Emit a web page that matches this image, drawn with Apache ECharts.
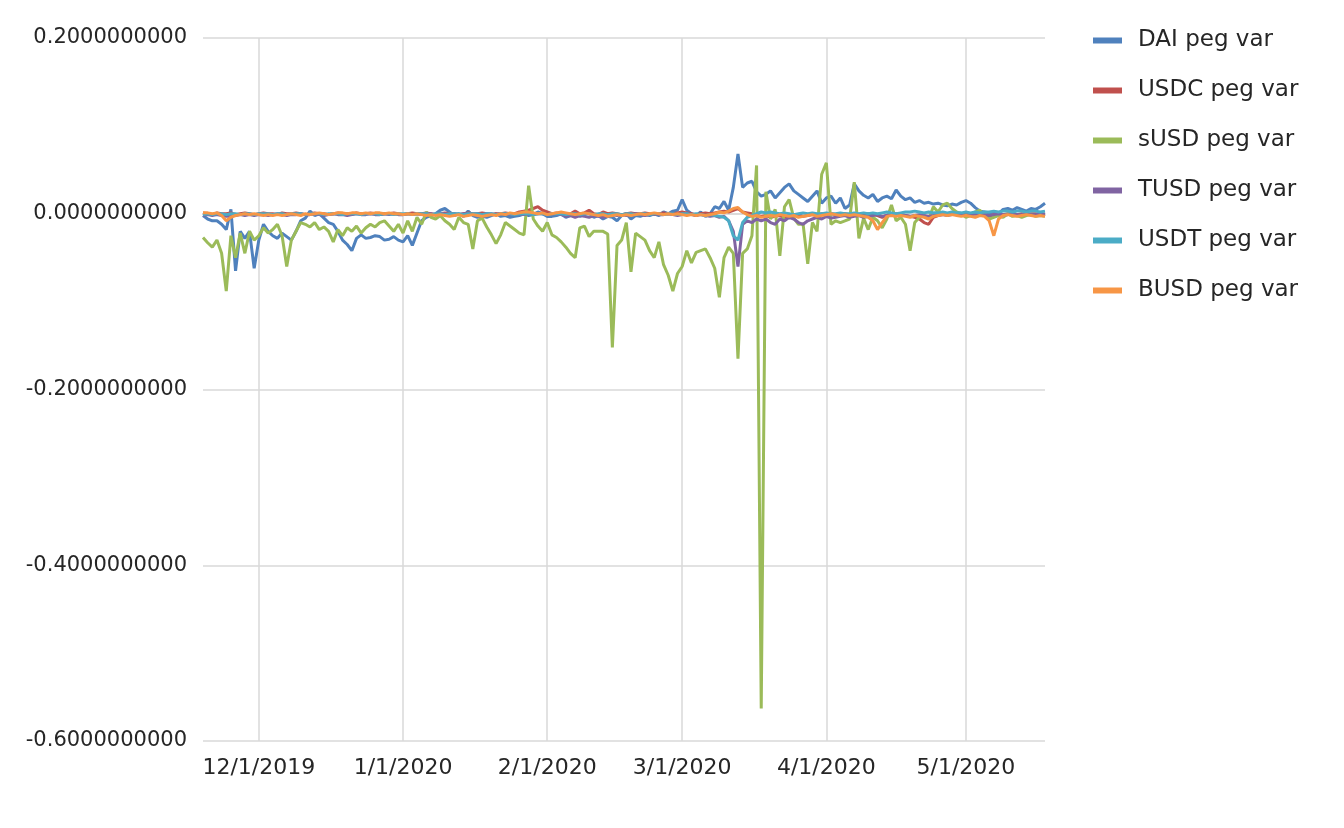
<!DOCTYPE html>
<html>
<head>
<meta charset="utf-8">
<script src="https://cdn.jsdelivr.net/npm/echarts@6/dist/echarts.min.js"></script>
<style>
html,body{margin:0;padding:0;background:#fff;}
#chart{width:1344px;height:828px;}
</style>
</head>
<body>
<div id="chart"></div>
<script>
// Daily categories from 11/19/2019 through 5/18/2020
const startDate = [2019, 11, 19];
const dayCount = 182;

const seriesNames = ['DAI peg var', 'USDC peg var', 'sUSD peg var', 'TUSD peg var', 'USDT peg var', 'BUSD peg var'];
const yTicks = [-0.6, -0.4, -0.2, 0, 0.2];

const daiValues = [
 -0.002, -0.006, -0.008, -0.008, -0.012, -0.018, 0.005, -0.065, -0.020, -0.028,
 -0.020, -0.062, -0.030, -0.012, -0.020, -0.025, -0.028, -0.022, -0.026, -0.030,
 -0.020, -0.008, -0.005, 0.003, -0.002, 0.000, -0.005, -0.010, -0.012, -0.020,
 -0.030, -0.035, -0.042, -0.028, -0.024, -0.028, -0.027, -0.025, -0.026, -0.030,
 -0.029, -0.026, -0.030, -0.032, -0.025, -0.036, -0.022, -0.008, -0.004, -0.002,
 0.000, 0.004, 0.006, 0.002, -0.002, 0.000, -0.003, 0.003, -0.002, -0.004,
 -0.003, -0.004, -0.002, 0.000, -0.003, -0.002, -0.004, -0.003, -0.002, 0.000,
 -0.002, -0.001, 0.002, 0.000, -0.003, -0.003, -0.002, 0.000, -0.004, -0.002,
 0.002, -0.003, -0.001, 0.002, -0.004, -0.002, -0.006, -0.003, -0.004, -0.008,
 -0.002, 0.000, -0.006, -0.002, -0.003, -0.001, -0.002, 0.000, -0.002, 0.002,
 0.000, 0.003, 0.004, 0.016, 0.004, 0.000, -0.002, 0.002, -0.003, 0.000,
 0.008, 0.006, 0.014, 0.004, 0.030, 0.068, 0.030, 0.035, 0.037, 0.025,
 0.020, 0.022, 0.026, 0.018, 0.024, 0.030, 0.034, 0.026, 0.022, 0.018,
 0.014, 0.020, 0.026, 0.012, 0.018, 0.020, 0.012, 0.018, 0.006, 0.010,
 0.034, 0.026, 0.021, 0.018, 0.022, 0.014, 0.018, 0.020, 0.017, 0.027,
 0.020, 0.016, 0.018, 0.013, 0.015, 0.012, 0.013, 0.011, 0.012, 0.010,
 0.009, 0.011, 0.010, 0.013, 0.015, 0.012, 0.007, 0.003, 0.002, 0.001,
 0.002, 0.000, 0.005, 0.006, 0.004, 0.007, 0.005, 0.003, 0.006, 0.005,
 0.008, 0.012
];

const usdcValues = [
 0.001, 0.000, -0.001, 0.001, 0.000, 0.000, 0.001, -0.001, 0.000, 0.001,
 0.000, -0.001, 0.000, 0.001, 0.000, 0.000, -0.001, 0.001, 0.000, 0.000,
 0.001, 0.000, -0.001, 0.000, 0.001, 0.000, 0.000, -0.001, 0.000, 0.001,
 0.000, 0.000, -0.001, 0.001, 0.000, 0.000, 0.001, 0.000, -0.001, 0.000,
 0.000, 0.001, 0.000, -0.001, 0.000, 0.001, 0.000, 0.000, 0.001, 0.000,
 -0.001, 0.000, 0.001, 0.000, 0.000, -0.001, 0.000, 0.001, 0.000, 0.000,
 0.001, 0.000, -0.001, 0.000, 0.000, 0.001, 0.000, 0.000, 0.002, 0.003,
 0.004, 0.006, 0.008, 0.004, 0.002, 0.000, 0.001, 0.000, -0.001, 0.000,
 0.003, 0.000, 0.001, 0.004, 0.000, -0.001, 0.002, 0.000, 0.001, 0.000,
 -0.001, 0.000, 0.001, 0.000, 0.000, 0.001, 0.000, -0.001, 0.000, 0.001,
 0.000, 0.000, 0.001, 0.002, 0.001, 0.000, -0.001, 0.000, 0.001, 0.000,
 0.001, 0.002, 0.003, 0.002, 0.004, 0.006, 0.002, 0.001, 0.000, -0.002,
 -0.003, -0.002, -0.004, -0.003, -0.002, -0.004, -0.003, -0.002, -0.001, -0.003,
 -0.002, -0.001, -0.002, 0.000, -0.001, 0.000, -0.001, 0.000, 0.000, -0.001,
 0.000, -0.002, -0.001, 0.000, -0.001, -0.002, -0.004, -0.002, -0.001, 0.000,
 -0.001, -0.002, -0.003, -0.004, -0.006, -0.010, -0.012, -0.004, -0.002, -0.001,
 0.000, -0.001, 0.000, -0.001, 0.000, -0.001, 0.000, -0.001, -0.002, -0.003,
 -0.001, 0.000, -0.001, 0.000, 0.000, -0.001, 0.000, -0.001, 0.000, 0.000,
 -0.001, 0.000
];

const susdValues = [
 -0.027, -0.033, -0.038, -0.030, -0.045, -0.088, -0.025, -0.050, -0.022, -0.045,
 -0.020, -0.030, -0.025, -0.016, -0.022, -0.018, -0.012, -0.025, -0.060, -0.030,
 -0.020, -0.010, -0.012, -0.015, -0.010, -0.018, -0.015, -0.020, -0.032, -0.018,
 -0.025, -0.016, -0.020, -0.014, -0.022, -0.016, -0.012, -0.015, -0.010, -0.008,
 -0.014, -0.020, -0.012, -0.022, -0.008, -0.020, -0.004, -0.012, 0.002, -0.004,
 -0.006, -0.002, -0.008, -0.012, -0.018, -0.004, -0.010, -0.012, -0.040, -0.008,
 -0.005, -0.015, -0.024, -0.034, -0.024, -0.010, -0.014, -0.018, -0.022, -0.024,
 0.032, -0.006, -0.014, -0.020, -0.010, -0.024, -0.027, -0.032, -0.038, -0.045,
 -0.050, -0.016, -0.014, -0.026, -0.020, -0.020, -0.020, -0.023, -0.152, -0.036,
 -0.030, -0.010, -0.066, -0.022, -0.026, -0.030, -0.042, -0.050, -0.032, -0.058,
 -0.070, -0.088, -0.068, -0.060, -0.042, -0.056, -0.044, -0.042, -0.040, -0.050,
 -0.062, -0.095, -0.050, -0.038, -0.045, -0.165, -0.045, -0.040, -0.025, 0.055,
 -0.563, 0.025, -0.006, 0.005, -0.048, 0.008, 0.016, -0.005, -0.012, -0.012,
 -0.057, -0.010, -0.020, 0.045, 0.058, -0.012, -0.008, -0.010, -0.008, -0.006,
 0.036, -0.028, -0.005, -0.018, -0.004, -0.008, -0.016, -0.006, 0.010, -0.008,
 -0.004, -0.012, -0.042, -0.010, -0.004, -0.002, -0.006, 0.008, 0.002, 0.010,
 0.012, 0.006, 0.002, 0.000, -0.004, -0.002, 0.002, 0.004, -0.002, -0.006,
 -0.004, -0.002, -0.004, 0.000, -0.003, -0.002, -0.004, -0.002, -0.001, -0.003,
 -0.002, -0.003
];

const tusdValues = [
 -0.002, -0.001, -0.002, -0.001, -0.002, -0.003, -0.001, -0.002, -0.001, -0.002,
 -0.001, -0.002, -0.001, -0.001, -0.002, -0.001, 0.000, -0.001, -0.002, -0.001,
 -0.001, 0.000, -0.001, -0.001, 0.000, -0.001, -0.002, -0.001, 0.000, -0.001,
 -0.001, -0.002, -0.001, 0.000, -0.001, -0.001, 0.000, -0.001, -0.001, 0.000,
 -0.001, 0.000, -0.001, -0.001, 0.000, -0.001, 0.000, -0.001, 0.000, 0.000,
 -0.001, 0.000, 0.000, -0.001, 0.000, -0.001, 0.000, 0.000, -0.001, 0.000,
 -0.001, 0.000, 0.000, -0.001, 0.000, 0.000, -0.001, 0.000, 0.000, -0.001,
 0.000, -0.001, 0.000, 0.000, -0.001, 0.000, 0.000, -0.001, -0.003, -0.002,
 -0.004, -0.002, -0.003, -0.004, -0.002, -0.003, -0.004, -0.002, -0.001, -0.002,
 -0.001, -0.002, -0.001, 0.000, -0.001, -0.002, -0.001, 0.000, -0.001, -0.001,
 0.000, -0.001, -0.002, -0.001, 0.000, -0.001, -0.002, -0.001, -0.002, -0.003,
 -0.002, -0.004, -0.003, -0.008, -0.020, -0.060, -0.012, -0.008, -0.010, -0.006,
 -0.008, -0.006, -0.010, -0.012, -0.006, -0.008, -0.004, -0.006, -0.010, -0.012,
 -0.008, -0.006, -0.004, -0.006, -0.003, -0.005, -0.004, -0.003, -0.002, -0.004,
 -0.003, -0.002, -0.004, -0.003, -0.002, -0.001, -0.003, -0.002, -0.001, -0.002,
 -0.001, -0.002, -0.003, -0.002, -0.001, -0.002, -0.003, -0.002, -0.001, -0.001,
 -0.002, -0.001, 0.000, -0.001, -0.002, -0.001, 0.000, -0.001, -0.001, -0.002,
 -0.001, 0.000, -0.001, -0.001, 0.000, -0.001, -0.001, 0.000, -0.001, -0.001,
 0.000, -0.001
];

const usdtValues = [
 -0.001, 0.000, -0.001, 0.000, 0.000, -0.001, 0.000, 0.000, -0.001, 0.000,
 0.000, -0.001, 0.000, 0.000, 0.000, -0.001, 0.000, 0.000, -0.001, 0.000,
 0.000, 0.000, -0.001, 0.000, 0.000, 0.000, -0.001, 0.000, 0.000, 0.000,
 -0.001, 0.000, 0.000, 0.000, -0.001, 0.000, 0.000, 0.000, -0.001, 0.000,
 0.000, -0.001, 0.000, 0.000, 0.000, -0.001, 0.000, 0.000, 0.000, -0.001,
 0.000, 0.000, -0.001, 0.000, 0.000, 0.000, -0.001, 0.000, 0.000, 0.000,
 -0.001, 0.000, 0.000, -0.001, 0.000, 0.000, 0.000, -0.001, 0.000, 0.000,
 0.000, -0.001, 0.000, 0.000, -0.001, 0.000, 0.000, 0.000, -0.001, 0.000,
 0.000, -0.001, 0.000, 0.000, -0.001, 0.000, 0.000, -0.001, 0.000, 0.000,
 -0.001, 0.000, 0.000, -0.001, 0.000, 0.000, -0.001, 0.000, 0.000, -0.001,
 0.000, 0.000, -0.001, 0.000, 0.000, -0.001, 0.000, -0.001, -0.002, -0.001,
 -0.002, -0.003, -0.004, -0.008, -0.025, -0.030, -0.010, -0.004, -0.002, 0.000,
 0.002, 0.001, 0.002, 0.001, 0.000, 0.001, 0.000, -0.001, 0.000, 0.001,
 0.000, 0.001, 0.000, 0.000, 0.001, 0.000, 0.000, 0.001, 0.000, 0.000,
 0.001, 0.000, 0.001, 0.000, 0.001, 0.000, 0.001, 0.002, 0.001, 0.000,
 0.001, 0.002, 0.002, 0.003, 0.002, 0.001, 0.002, 0.001, 0.001, 0.002,
 0.001, 0.002, 0.001, 0.001, 0.002, 0.001, 0.002, 0.001, 0.002, 0.002,
 0.003, 0.002, 0.003, 0.003, 0.002, 0.003, 0.003, 0.002, 0.003, 0.003,
 0.002, 0.003
];

const busdValues = [
 0.001, 0.001, 0.000, 0.001, -0.002, -0.008, -0.004, -0.002, -0.001, 0.000,
 -0.001, 0.000, -0.001, -0.002, -0.001, -0.002, -0.001, -0.002, -0.001, 0.000,
 -0.001, -0.002, 0.000, -0.001, 0.000, 0.001, 0.000, -0.001, 0.000, 0.001,
 0.001, 0.000, 0.001, 0.001, 0.000, 0.001, 0.000, 0.001, 0.001, 0.000,
 0.001, 0.000, 0.000, -0.001, 0.000, -0.001, 0.000, -0.001, -0.002, -0.001,
 -0.002, -0.001, -0.002, -0.003, -0.002, -0.001, -0.003, -0.002, -0.001, -0.002,
 -0.003, -0.002, -0.001, -0.002, 0.000, -0.001, 0.001, 0.000, 0.001, 0.002,
 0.002, 0.001, 0.000, 0.001, -0.001, 0.000, 0.001, 0.002, 0.001, 0.000,
 -0.001, 0.000, 0.001, 0.000, -0.001, -0.002, -0.001, -0.003, -0.002, -0.001,
 -0.002, -0.001, -0.002, -0.001, 0.000, -0.001, 0.000, 0.001, 0.000, -0.001,
 0.000, -0.001, 0.000, -0.001, -0.002, -0.001, -0.002, -0.001, -0.002, -0.001,
 0.000, 0.002, 0.001, 0.003, 0.006, 0.007, 0.002, -0.001, -0.003, -0.002,
 -0.004, -0.003, -0.002, -0.003, -0.001, -0.002, -0.003, -0.002, -0.004, -0.003,
 -0.002, -0.001, -0.003, -0.002, -0.001, 0.000, -0.001, -0.002, -0.001, -0.002,
 -0.001, -0.002, -0.003, -0.004, -0.008, -0.018, -0.010, -0.003, -0.002, -0.003,
 -0.002, -0.003, -0.004, -0.002, -0.003, -0.004, -0.006, -0.003, -0.002, -0.001,
 -0.002, -0.001, -0.002, -0.003, -0.002, -0.003, -0.004, -0.002, -0.003, -0.008,
 -0.025, -0.006, -0.002, -0.001, -0.002, -0.003, -0.002, -0.001, -0.002, -0.003,
 -0.002, -0.003
];

const seriesColors = ['#4F81BD', '#C0504D', '#9BBB59', '#8064A2', '#4BACC6', '#F79646'];
const seriesData = [daiValues, usdcValues, susdValues, tusdValues, usdtValues, busdValues];

// Build date category labels (M/D/YYYY)
const categories = [];
{
  const d0 = new Date(startDate[0], startDate[1] - 1, startDate[2]);
  for (let i = 0; i < dayCount; i++) {
    const d = new Date(d0.getFullYear(), d0.getMonth(), d0.getDate() + i);
    categories.push((d.getMonth() + 1) + '/' + d.getDate() + '/' + d.getFullYear());
  }
}
const isMonthStart = (idx, val) => String(val).split('/')[1] === '1';

const chart = echarts.init(document.getElementById('chart'), null, {renderer: 'canvas'});
chart.setOption({
  animation: false,
  backgroundColor: '#ffffff',
  grid: {left: 203, right: 299, top: 38, bottom: 87, containLabel: false},
  legend: {
    orient: 'vertical',
    left: 1088,
    top: 24,
    icon: 'rect',
    itemWidth: 29,
    itemHeight: 6,
    itemGap: 27,
    data: seriesNames,
    textStyle: {fontFamily: 'DejaVu Sans', fontSize: 23, lineHeight: 22, color: '#262626', padding: [0, 0, 0, 11]}
  },
  xAxis: {
    type: 'category',
    data: categories,
    boundaryGap: false,
    axisLine: {show: true, lineStyle: {color: '#D9D9D9', width: 1.5}},
    axisTick: {show: false},
    axisLabel: {interval: isMonthStart, fontFamily: 'DejaVu Sans', fontSize: 22, color: '#262626', margin: 16},
    splitLine: {show: true, interval: isMonthStart, lineStyle: {color: '#D9D9D9', width: 1.5}}
  },
  yAxis: {
    type: 'value',
    min: yTicks[0],
    max: yTicks[yTicks.length - 1],
    interval: 0.2,
    axisLine: {show: false},
    axisTick: {show: false},
    axisLabel: {fontFamily: 'DejaVu Sans', fontSize: 21, color: '#262626', margin: 16,
      formatter: v => v.toFixed(10)},
    splitLine: {show: true, lineStyle: {color: '#D9D9D9', width: 1.5}}
  },
  series: seriesNames.map((name, i) => ({
    name: name,
    type: 'line',
    data: seriesData[i],
    showSymbol: false,
    symbol: 'none',
    color: seriesColors[i],
    lineStyle: {width: 3, color: seriesColors[i]},
    emphasis: {disabled: true}
  }))
});
</script>
</body>
</html>
